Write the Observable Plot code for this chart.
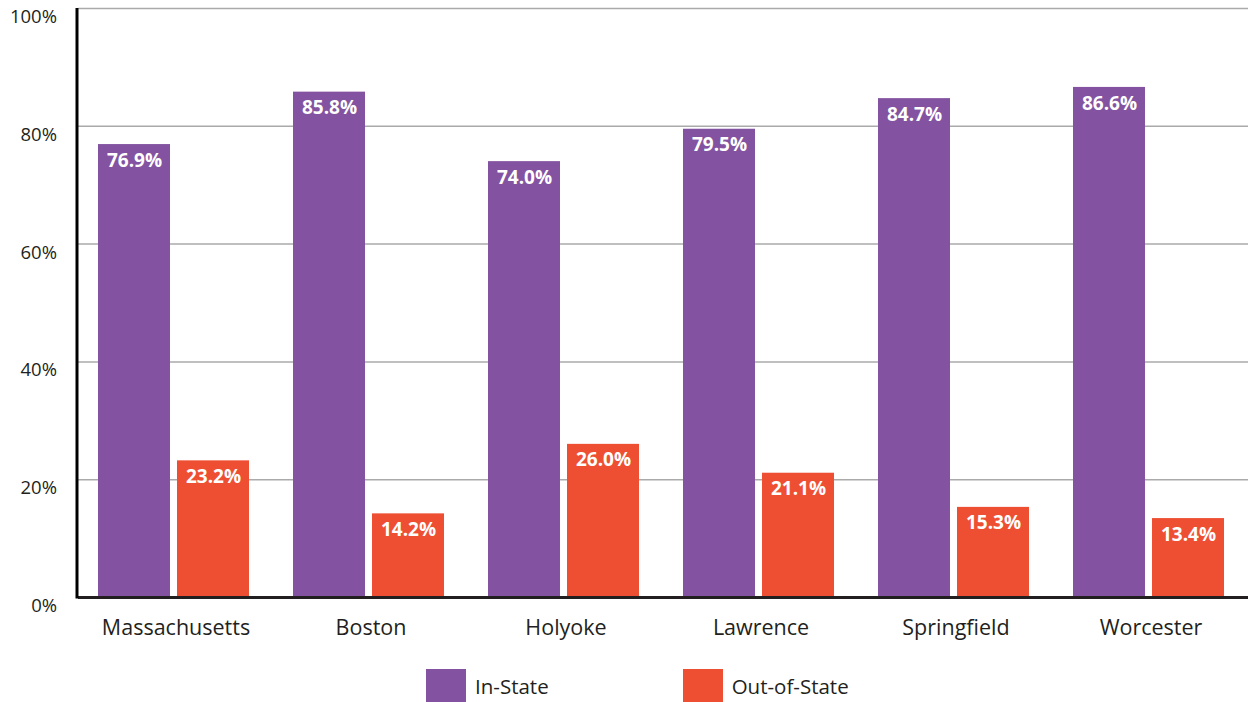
<!DOCTYPE html>
<html>
<head>
<meta charset="utf-8">
<script src="https://cdn.jsdelivr.net/npm/d3@7"></script>
<script src="https://cdn.jsdelivr.net/npm/@observablehq/plot@0.6"></script>
<style>
  body { margin: 0; background: #fff; font-family: "Open Sans", sans-serif; }
  #legend { display: flex; justify-content: flex-start; margin-top: 19px; height: 33px; align-items: center; }
  .item { display: flex; align-items: center; font-size: 20.5px; color: #231f20; }
  .sw { width: 40px; height: 33px; margin-right: 9px; }
</style>
</head>
<body>
<div id="chart"></div>
<div id="legend"></div>
<script>
const cities = ["Massachusetts", "Boston", "Holyoke", "Lawrence", "Springfield", "Worcester"];
const series = ["In-State", "Out-of-State"];
const inState = [76.9, 85.8, 74.0, 79.5, 84.7, 86.6];
const outState = [23.2, 14.2, 26.0, 21.1, 15.3, 13.4];
const yTicks = [0, 20, 40, 60, 80, 100];
const colors = ["#8353a1", "#ee4f32"];

const data = [];
cities.forEach((c, i) => {
  data.push({city: c, type: series[0], value: inState[i]});
  data.push({city: c, type: series[1], value: outState[i]});
});

const chart = Plot.plot({
  width: 1248,
  height: 650,
  marginLeft: 77,
  marginRight: 0,
  marginTop: 8,
  marginBottom: 53,
  style: {fontFamily: "'Open Sans', sans-serif", background: "#fff", color: "#231f20"},
  fx: {domain: cities, padding: 0, label: null, axis: null},
  x: {domain: series, paddingInner: 0.0875, paddingOuter: 0.264, align: 0.45, axis: null},
  y: {domain: [0, 100], axis: null},
  color: {domain: series, range: colors},
  marks: [
    Plot.ruleY(yTicks.filter(d => d > 0), {stroke: "#aaaaaa", strokeWidth: 1.5}),
    Plot.barY(data, {fx: "city", x: "type", y: "value", fill: "type"}),
    Plot.text(data, {fx: "city", x: "type", y: "value", text: d => d.value.toFixed(1) + "%",
      dy: 16, fill: "white", fontWeight: "bold", fontSize: 19}),
    Plot.ruleY([0], {stroke: "#231f20", strokeWidth: 3}),
    Plot.axisFx({anchor: "bottom", tickSize: 0, tickPadding: 22, fontSize: 21.5, label: null})
  ]
});

// y axis drawn as an overlay using the plot's own y scale
const yScale = chart.scale("y");
const svg = d3.select(chart);
const g = svg.append("g");
g.append("line")
  .attr("x1", 77).attr("x2", 77)
  .attr("y1", yScale.apply(100)).attr("y2", yScale.apply(0) + 1.5)
  .attr("stroke", "#000").attr("stroke-width", 3);
g.selectAll("text").data(yTicks).join("text")
  .attr("x", 57).attr("y", d => yScale.apply(d) + 10)
  .attr("text-anchor", "end").attr("dominant-baseline", "middle")
  .attr("font-size", 18.5).attr("fill", "#231f20")
  .text(d => d + "%");

document.getElementById("chart").appendChild(chart);

const legend = document.getElementById("legend");
series.forEach((s, i) => {
  const item = document.createElement("div");
  item.className = "item";
  item.style.marginLeft = i === 0 ? "426px" : "134px";
  item.innerHTML = `<div class="sw" style="background:${colors[i]}"></div><span>${s}</span>`;
  legend.appendChild(item);
});
</script>
</body>
</html>
